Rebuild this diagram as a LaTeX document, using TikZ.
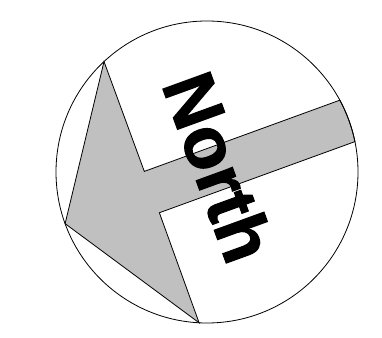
\documentclass[tikz,border=0pt]{standalone}
\usepackage{fontspec}
\setmainfont{Liberation Sans}
\newfontfamily\northfont[FakeBold=1.5]{Liberation Sans Bold}
\definecolor{arrowgray}{RGB}{192,192,192}

\begin{document}
\begin{tikzpicture}[
    x=1pt, y=1pt,
    rim/.style={draw=black, line width=0.8pt},
    arrowfill/.style={fill=arrowgray, draw=black, line width=0.8pt, line join=miter},
    label/.style={font=\northfont\fontsize{73}{73}\selectfont, rotate=-70, inner sep=0pt}
]
    \useasboundingbox (0,0) rectangle (382,337);

    % Compass disc
    \coordinate (ctr) at (207,165);

    % Arrow, turned along its shaft
    \begin{scope}[shift={(ctr)}, rotate=20]
        \filldraw[arrowfill] (180:151) -- (113:151) -- (-58.7,22) -- (8.4:151)
            arc (8.4:-8.4:151) -- (-58.7,-22) -- (247:151) -- cycle;
    \end{scope}

    \draw[rim] (ctr) circle (151);

    % Text
    \node[label] (north) at (219,170) {North};
\end{tikzpicture}
\end{document}
